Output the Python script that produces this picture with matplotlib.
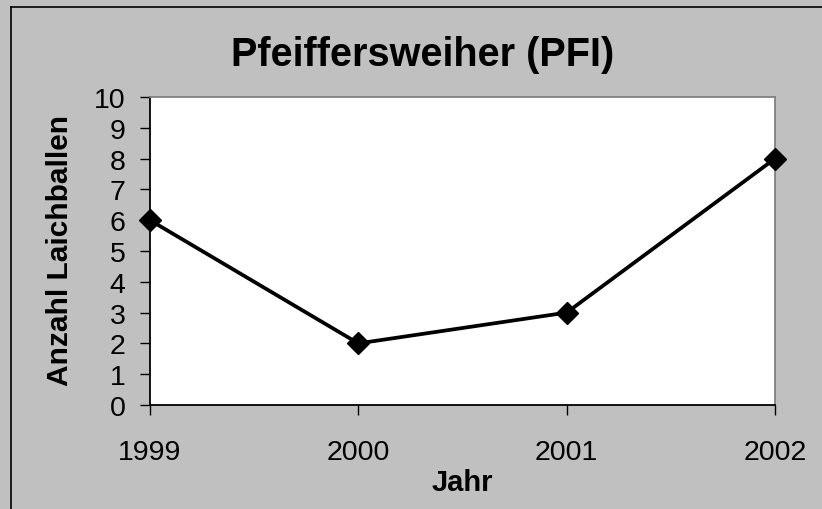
import matplotlib.pyplot as plt
from matplotlib.lines import Line2D

plt.rcParams['font.family'] = ['Liberation Sans', 'DejaVu Sans']

# Data
years = [1999, 2000, 2001, 2002]
laichballen = [6, 2, 3, 8]
y_ticks = list(range(0, 11))

fig = plt.figure(figsize=(8.22, 5.10), dpi=100, facecolor='#C0C0C0')
ax = fig.add_axes([150 / 822, 104 / 510, 625 / 822, 308 / 510])

ax.plot(years, laichballen, color='black', linewidth=2.7, marker='D',
        markersize=11.5, markerfacecolor='black', markeredgecolor='black',
        clip_on=False, zorder=3)

ax.set_xlim(1999, 2002)
ax.set_ylim(0, 10)
ax.set_xticks(years)
ax.set_yticks(y_ticks)

ax.tick_params(axis='both', direction='out', length=7.5, width=1, labelsize=20.5, colors='black')
ax.tick_params(axis='y', pad=10)
ax.tick_params(axis='x', pad=17)

ax.spines['left'].set_color('black')
ax.spines['bottom'].set_color('black')
ax.spines['top'].set_color('#808080')
ax.spines['right'].set_color('#808080')
for s in ax.spines.values():
    s.set_linewidth(1.3)

ax.set_xlabel('Jahr', fontsize=21, fontweight='bold')
ax.set_ylabel('Anzahl Laichballen', fontsize=21.5, fontweight='bold')
ax.xaxis.set_label_coords(0.499, -0.25)
ax.yaxis.set_label_coords(-0.144, 0.506)
ax.xaxis.label.set_va('center')
ax.yaxis.label.set_va('center')

fig.text(423 / 822, 1 - 55 / 510, 'Pfeiffersweiher (PFI)', fontsize=28.5,
         fontweight='bold', ha='center', va='center')

# chart area border: only left and top edges are inside the picture
bx, by = 11 / 822, 1 - 7.5 / 510
fig.add_artist(Line2D([bx, bx], [0, by], transform=fig.transFigure, color='black', linewidth=1.2))
fig.add_artist(Line2D([bx, 1], [by, by], transform=fig.transFigure, color='black', linewidth=1.2))

plt.savefig('out.png', dpi=100, facecolor=fig.get_facecolor())
